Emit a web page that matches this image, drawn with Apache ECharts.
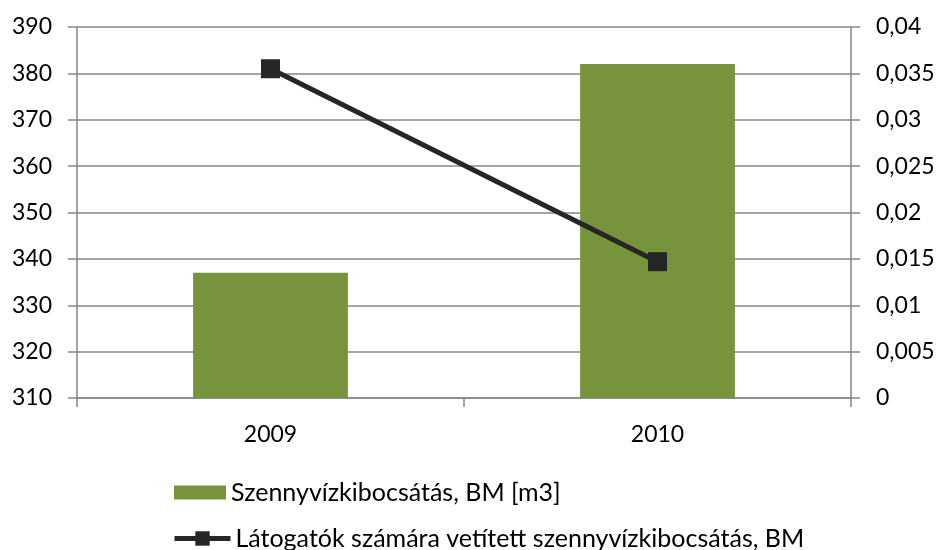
<!DOCTYPE html>
<html>
<head>
<meta charset="utf-8">
<script src="https://cdn.jsdelivr.net/npm/echarts@6/dist/echarts.min.js"></script>
<style>html,body{margin:0;padding:0;background:#fff}#c{width:938px;height:550px}</style>
</head>
<body>
<div id="c"></div>
<script>
const categories = ['2009', '2010'];
const barName = 'Szennyvízkibocsátás, BM [m3]';
const barValues = [337, 382];
const lineName = 'Látogatók számára vetített szennyvízkibocsátás, BM';
const lineValues = [0.0355, 0.0147];

const FONT = 'Lato, sans-serif';
const chart = echarts.init(document.getElementById('c'), null, {renderer: 'canvas'});
const gridColor = '#868686';
const axisStyle = {lineStyle: {color: gridColor, width: 1.5}};
const fmtComma = v => String(parseFloat(v.toFixed(4))).replace('.', ',');

chart.setOption({
  animation: false,
  backgroundColor: '#fff',
  textStyle: {fontFamily: FONT},
  grid: {left: 77, right: 87, top: 27, bottom: 152, containLabel: false},
  legend: [
    {
      data: [{name: barName, icon: 'rect'}], orient: 'vertical', left: 169, top: 475,
      itemWidth: 52, itemHeight: 14, itemGap: 0,
      textStyle: {fontSize: 25, color: '#000', fontFamily: FONT},
      selectedMode: false
    },
    {
      data: [lineName], orient: 'vertical', left: 167, top: 521,
      itemWidth: 56, itemHeight: 18, itemGap: 0,
      lineStyle: {width: 5},
      textStyle: {fontSize: 25, color: '#000', fontFamily: FONT},
      selectedMode: false
    }
  ],
  xAxis: {
    type: 'category', data: categories,
    axisLine: axisStyle,
    axisTick: {show: true, alignWithLabel: false, length: 9, lineStyle: {color: gridColor, width: 1.5}},
    axisLabel: {fontSize: 23, color: '#000', margin: 25, fontFamily: FONT}
  },
  yAxis: [
    {
      type: 'value', min: 310, max: 390, interval: 10, position: 'left',
      axisLine: {show: true, lineStyle: {color: gridColor, width: 1.5}},
      axisTick: {show: true, length: 9, lineStyle: {color: gridColor, width: 1.5}},
      splitLine: {show: true, lineStyle: {color: gridColor, width: 1.5}},
      axisLabel: {fontSize: 23, color: '#000', margin: 25, fontFamily: FONT}
    },
    {
      type: 'value', min: 0, max: 0.04, interval: 0.005, position: 'right',
      axisLine: {show: true, lineStyle: {color: gridColor, width: 1.5}},
      axisTick: {show: true, length: 9, lineStyle: {color: gridColor, width: 1.5}},
      splitLine: {show: false},
      axisLabel: {fontSize: 23, color: '#000', margin: 25, fontFamily: FONT, formatter: fmtComma}
    }
  ],
  series: [
    {
      name: barName, type: 'bar', yAxisIndex: 0, data: barValues,
      barWidth: '40%', itemStyle: {color: '#77933C'}
    },
    {
      name: lineName, type: 'line', yAxisIndex: 1, data: lineValues,
      symbol: 'rect', symbolSize: 19,
      lineStyle: {color: '#262626', width: 5},
      itemStyle: {color: '#262626'}, z: 5
    }
  ]
});
</script>
</body>
</html>
